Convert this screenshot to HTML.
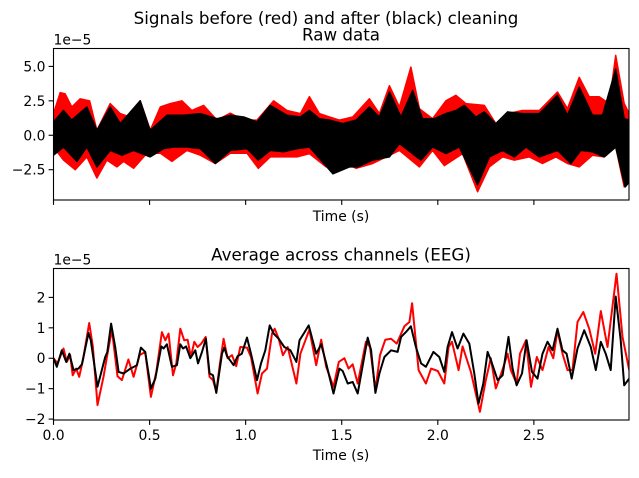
<!DOCTYPE html>
<html><head><meta charset="utf-8"><style>
html,body{margin:0;padding:0;background:#fff}
svg text{font-family:"DejaVu Sans","Liberation Sans",sans-serif;fill:#000}
</style></head><body>
<svg id="fig" width="639" height="473" xmlns="http://www.w3.org/2000/svg">
<text x="326" y="24" font-size="16.7" text-anchor="middle">Signals before (red) and after (black) cleaning</text>
<g id="top"></g>
<g id="bot"></g>
</svg>
<script>
// ---- Top panel envelopes (1e-5 units) ----
const redUpT=[0,.035,.061,.095,.139,.188,.226,.295,.347,.399,.451,.503,.556,.608,.668,.72,.781,.851,.92,.99,1.059,1.146,1.215,1.285,1.332,1.384,1.436,1.488,1.557,1.644,1.696,1.748,1.8,1.86,1.904,1.973,2.042,2.094,2.146,2.242,2.302,2.363,2.441,2.528,2.623,2.675,2.736,2.788,2.84,2.892,2.926,2.97,2.996];
const redUpV=[1.57,3.1,3.0,2.05,2.65,2.5,0.36,2.3,1.57,1.33,2.5,0.36,2.05,2.3,2.5,1.8,2.17,1.1,1.6,1.1,1.1,2.5,1.8,1.57,2.8,1.57,1.33,1.1,1.33,2.65,1.57,3.6,2.05,4.95,1.93,1.2,2.5,2.9,2.3,2.17,0.85,1.57,1.8,1.8,3.14,1.93,4.2,2.8,2.8,2.3,5.8,2.3,1.57];
const redLoT=[0,.052,.113,.174,.226,.278,.33,.365,.417,.486,.556,.616,.694,.764,.842,.92,1.007,1.066,1.128,1.198,1.267,1.332,1.419,1.488,1.575,1.661,1.731,1.8,1.904,1.973,2.034,2.129,2.207,2.268,2.337,2.398,2.476,2.545,2.614,2.675,2.736,2.805,2.866,2.926,2.97,2.996];
const redLoV=[-0.85,-1.8,-2.5,-1.57,-3.1,-1.8,-2.3,-1.9,-2.4,-1.3,-1.3,-1.9,-1.1,-1.45,-2.05,-1.3,-1.3,-2.4,-1.57,-1.57,-1.57,-1.33,-2.3,-1.8,-2.4,-2.05,-1.57,-1.1,-2.3,-1.1,-2.2,-1.33,-4.1,-2.3,-1.57,-1.8,-1.57,-2.05,-1.57,-2.05,-2.3,-1.45,-1.57,-0.85,-3.75,-2.8];
const blkUpT=[0,.052,.095,.174,.226,.295,.347,.451,.503,.590,.677,.764,.851,.92,.99,1.059,1.128,1.215,1.285,1.332,1.384,1.436,1.505,1.575,1.644,1.696,1.748,1.808,1.869,1.921,1.982,2.042,2.094,2.138,2.198,2.242,2.302,2.363,2.441,2.528,2.623,2.675,2.736,2.805,2.857,2.926,2.97,2.996];
const blkUpV=[0.97,1.8,1.1,2.05,0.36,2.05,0.85,2.5,0.36,1.45,1.45,1.57,1.2,1.45,1.33,0.97,2.17,1.45,1.33,1.8,1.2,1.1,0.85,1.1,2.05,1.33,3.14,1.33,3.26,1.2,1.2,1.57,1.8,2.17,1.33,1.7,0.85,1.7,1.57,1.57,2.9,1.45,3.5,1.45,1.45,4.8,1.2,1.1];
const blkLoT=[0,.052,.122,.174,.226,.295,.356,.417,.503,.573,.625,.694,.764,.842,.92,1.007,1.066,1.128,1.198,1.267,1.332,1.454,1.54,1.583,1.661,1.748,1.8,1.912,1.973,2.042,2.112,2.207,2.268,2.337,2.398,2.459,2.528,2.623,2.692,2.744,2.805,2.866,2.926,2.975,2.996];
const blkLoV=[-1.45,-0.85,-1.9,-0.85,-2.3,-1.1,-1.45,-1.1,-1.57,-0.97,-0.85,-0.85,-0.97,-2.05,-1.1,-0.97,-1.8,-1.1,-1.2,-0.97,-0.85,-2.8,-2.3,-2.3,-1.8,-1.57,-0.6,-1.8,-0.85,-1.33,-0.85,-3.6,-1.57,-1.1,-1.57,-0.85,-1.57,-1.1,-2.05,-1.1,-1.2,-1.57,-0.85,-3.75,-3.4];
// ---- Bottom panel: average across channels (1e-5 units) ----
const avgBlkT=[0,.017,.043,.066,.083,.104,.13,.148,.182,.194,.229,.269,.28,.30,.321,.339,.365,.4,.434,.455,.477,.507,.53,.561,.573,.59,.616,.642,.66,.674,.69,.712,.738,.752,.773,.793,.8125,.83,.847,.877,.889,.903,.9375,.958,.98,1.007,1.028,1.059,1.08,1.102,1.125,1.146,1.172,1.201,1.233,1.264,1.28,1.302,1.328,1.367,1.393,1.419,1.457,1.488,1.505,1.531,1.557,1.583,1.635,1.653,1.675,1.696,1.722,1.757,1.791,1.809,1.834,1.86,1.886,1.913,1.938,1.977,2.008,2.034,2.051,2.074,2.103,2.133,2.164,2.19,2.212,2.237,2.259,2.282,2.311,2.337,2.368,2.389,2.41,2.438,2.462,2.49,2.519,2.545,2.571,2.597,2.623,2.649,2.67,2.697,2.727,2.762,2.796,2.822,2.848,2.874,2.9,2.926,2.952,2.97,2.996];
const avgBlkV=[0,-0.28,0.26,-0.12,0.15,-0.39,-0.34,-0.2,0.83,0.59,-0.94,0.04,0.2,1.14,0.37,-0.45,-0.5,-0.34,-0.23,0.35,0.21,-1.0,-0.67,0.39,0.32,0.46,-0.28,-0.23,0.46,0.32,0.39,0,0.26,-0.17,0.21,0.64,-0.5,-0.56,-1.14,0.15,0.35,0.07,-0.23,0.07,0.15,0.68,0.15,-0.72,-0.17,0.26,1.08,0.81,0.64,0.37,0.26,-0.12,0.59,0.81,1.08,0.15,0.46,-0.17,-1.16,-0.34,-0.42,-0.83,-0.78,-1.16,0.68,0.26,-1.14,-0.5,0.04,0.26,0.21,0.7,0.86,1.05,0.37,-0.17,-0.28,0.21,0.04,-0.45,0.37,0.86,0.32,0.81,0.48,-0.5,-1.49,-0.83,0.21,-0.17,-0.72,-0.56,0.7,-0.34,-0.89,-0.5,0.59,-0.45,-0.67,0.15,0.54,0.26,0.97,0.26,0.15,-0.67,0.32,0.92,0.37,-0.39,0.54,0.15,-0.39,2.03,0.59,-0.89,-0.67];
const avgRedT=[0,.021,.052,.069,.087,.1,.118,.134,.153,.186,.205,.229,.26,.281,.304,.333,.356,.39,.417,.448,.477,.507,.535,.564,.582,.599,.622,.639,.66,.68,.698,.715,.733,.75,.769,.792,.812,.83,.847,.865,.885,.906,.929,.951,.972,1.007,1.028,1.062,1.085,1.111,1.137,1.151,1.172,1.194,1.219,1.264,1.285,1.311,1.332,1.367,1.393,1.419,1.457,1.485,1.514,1.536,1.557,1.583,1.626,1.647,1.675,1.699,1.727,1.757,1.786,1.826,1.852,1.866,1.9,1.938,1.965,2.0,2.034,2.056,2.074,2.108,2.129,2.172,2.219,2.25,2.276,2.302,2.333,2.363,2.38,2.41,2.428,2.459,2.485,2.515,2.545,2.576,2.601,2.623,2.649,2.675,2.701,2.727,2.757,2.788,2.819,2.848,2.883,2.93,2.961,2.996];
const avgRedV=[0,-0.17,0.32,-0.12,0.1,-0.56,-0.34,-0.61,-0.07,1.16,0.37,-1.54,-0.61,0.15,0.94,-0.59,-0.72,-0.04,-0.61,0.1,0.21,-1.27,-0.45,0.86,0.59,0.81,-0.56,-0.17,0.97,0.59,0.61,0.04,0.54,0.37,0.48,0.7,-0.61,-0.72,-1.1,-0.23,0.64,0,0.1,-0.26,0.37,0.35,0.04,-1.16,-0.5,-0.34,0.81,0.97,0.64,0.1,0.37,-0.83,0.15,0.59,0.94,-0.23,0.61,-0.28,-0.94,-0.12,0,-0.34,-0.2,-0.83,0.54,0.37,-1.05,0.1,0.61,0.64,0.48,1.05,1.19,1.81,-0.39,-0.83,-0.34,-0.42,-0.83,0.37,0.54,-0.39,0.39,-0.45,-1.76,-0.72,0,-0.99,-0.45,0.15,-0.39,-0.83,0.15,0.59,-0.94,0.04,-0.39,0.37,0,0.92,0.15,-0.39,-0.39,1.19,1.52,0.97,0.15,1.55,0.37,2.78,0.7,-0.39];
const xTicks=[0,0.5,1.0,1.5,2.0,2.5];
const xTickLabels=["0.0","0.5","1.0","1.5","2.0","2.5"];
const topYTicks=[-2.5,0,2.5,5.0];
const topYTickLabels=["\u22122.5","0.0","2.5","5.0"];
const botYTicks=[-2,-1,0,1,2];
const botYTickLabels=["\u22122","\u22121","0","1","2"];

const NS="http://www.w3.org/2000/svg";
const L=53.5,R=629;
const xs=t=>L+(t/2.995)*(R-L);
function mk(parent,tag,attrs){const e=document.createElementNS(NS,tag);for(const k in attrs)e.setAttribute(k,attrs[k]);parent.appendChild(e);return e;}
function buildAxes(g,top,bot,ymin,ymax,yt,ytl,showXLabels,title){
  const ys=v=>bot-(v-ymin)/(ymax-ymin)*(bot-top);
  const clip=mk(g,'clipPath',{id:'c'+top});
  mk(clip,'rect',{x:L,y:top,width:R-L,height:bot-top});
  const plot=mk(g,'g',{'clip-path':'url(#c'+top+')'});
  xTicks.forEach((t,i)=>{
    const tk=mk(g,'line',{x1:xs(t),x2:xs(t),y1:bot,y2:bot+4.9,stroke:'#000','stroke-width':1.1});
    
    
    if(showXLabels){const tx=mk(g,'text',{x:xs(t),y:bot+20,'font-size':13.9,'text-anchor':'middle'});tx.textContent=xTickLabels[i];
      
      }
  });
  yt.forEach((v,i)=>{
    const tk=mk(g,'line',{x1:L-4.9,x2:L,y1:ys(v),y2:ys(v),stroke:'#000','stroke-width':1.1});
    
    
    const tx=mk(g,'text',{x:L-8,y:ys(v)+5,'font-size':13.9,'text-anchor':'end'});tx.textContent=ytl[i];
    
    
  });
  const off=mk(g,'text',{x:L,y:top-4,'font-size':13.9});off.textContent='1e\u22125';
  
  
  const xl=mk(g,'text',{x:341,y:bot+(showXLabels?40:21),'font-size':13.9,'text-anchor':'middle'});xl.textContent='Time (s)';
  
  
  const ti=mk(g,'text',{x:341,y:top-8,'font-size':16.7,'text-anchor':'middle'});ti.textContent=title;
  
  
  return {plot,ys,frame:()=>{const f=mk(g,'rect',{x:L,y:top,width:R-L,height:bot-top,fill:'none',stroke:'#000','stroke-width':1.1});
    
    }};
}
function pts(T,V,ys){return T.map((t,i)=>xs(t).toFixed(1)+','+ys(V[i]).toFixed(1));}
// top
const A=buildAxes(document.getElementById('top'),48.5,200,-4.7,6.3,topYTicks,topYTickLabels,false,'Raw data');
function band(g,uT,uV,lT,lV,col,name){
  const p=pts(uT,uV,A.ys).concat(pts(lT,lV,A.ys).reverse());
  const e=mk(g,'polygon',{points:p.join(' '),fill:col,stroke:col,'stroke-width':1.5,'stroke-linejoin':'round'});
  
  
}
band(A.plot,redUpT,redUpV,redLoT,redLoV,'#ff0000','raw-before-cleaning-band');
band(A.plot,blkUpT,blkUpV,blkLoT,blkLoV,'#000000','raw-after-cleaning-band');
A.frame();
// bottom
const B=buildAxes(document.getElementById('bot'),268.5,420,-2.03,2.95,botYTicks,botYTickLabels,true,'Average across channels (EEG)');
const lr=mk(B.plot,'polyline',{points:pts(avgRedT,avgRedV,B.ys).join(' '),fill:'none',stroke:'#ff0000','stroke-width':2,'stroke-linejoin':'round'});


const lb=mk(B.plot,'polyline',{points:pts(avgBlkT,avgBlkV,B.ys).join(' '),fill:'none',stroke:'#000000','stroke-width':2,'stroke-linejoin':'round'});


B.frame();
</script>
</body></html>
